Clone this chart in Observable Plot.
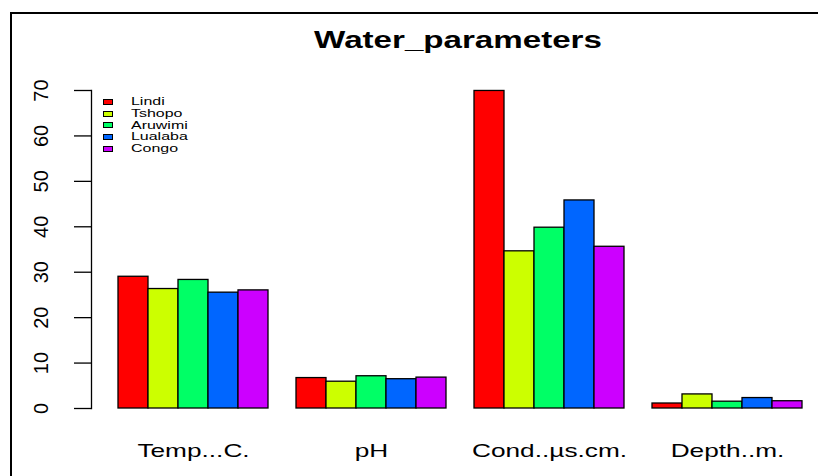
<!DOCTYPE html>
<html><head><meta charset="utf-8">
<script src="https://cdn.jsdelivr.net/npm/d3@7"></script>
<script src="https://cdn.jsdelivr.net/npm/@observablehq/plot@0.6"></script>
<style>
body{margin:0;background:#fff;}
#wrap{position:relative;width:818px;height:476px;overflow:hidden;font-family:"Liberation Sans",Arial,sans-serif;background:#fff;}
#border{position:absolute;left:10px;top:12px;width:900px;height:600px;border-left:2px solid #000;border-top:2px solid #000;pointer-events:none;}
#title{position:absolute;left:458px;top:29px;font-weight:bold;font-size:23px;line-height:23px;white-space:nowrap;transform:translateX(-50%) scaleX(1.44);color:#000;}
#legend{position:absolute;left:103px;top:96px;}
.row{display:flex;align-items:center;height:11.7px;}
.sw{width:8px;height:4px;border:1px solid #000;margin-right:18px;}
.lab{font-size:11px;line-height:11px;transform:scaleX(1.45);transform-origin:left center;white-space:nowrap;}
#chart{position:absolute;left:0;top:0;}
</style></head>
<body>
<div id="wrap">
  <div id="chart"></div>
  <div id="border"></div>
  <div id="title"></div>
  <div id="legend"></div>
</div>
<script>
const title = "Water_parameters";
const params = ["Temp...C.", "pH", "Cond..µs.cm.", "Depth..m."];
const rivers = ["Lindi", "Tshopo", "Aruwimi", "Lualaba", "Congo"];
const colors = ["#FF0000", "#CCFF00", "#00FF66", "#0066FF", "#CC00FF"];
const lindi   = [29.0, 6.7, 69.9, 1.1];
const tshopo  = [26.3, 5.9, 34.6, 3.1];
const aruwimi = [28.3, 7.1, 39.8, 1.5];
const lualaba = [25.5, 6.45, 45.8, 2.3];
const congo   = [26.0, 6.8, 35.6, 1.6];
const yTicks = [0, 10, 20, 30, 40, 50, 60, 70];

const series = [lindi, tshopo, aruwimi, lualaba, congo];
const data = [];
params.forEach((p, i) => rivers.forEach((r, j) => data.push({param: p, river: r, value: series[j][i]})));

const chart = Plot.plot({
  width: 818, height: 476,
  marginLeft: 90, marginRight: 16, marginTop: 90, marginBottom: 68,
  style: {fontFamily: "'Liberation Sans', Arial, sans-serif", color: "#000", background: "transparent"},
  fx: {domain: params, paddingInner: 0.16, paddingOuter: 0.0757, align: 1, label: null, axis: null},
  x: {domain: rivers, padding: 0, axis: null},
  y: {domain: [0, 70], axis: null},
  color: {domain: rivers, range: colors},
  marks: [
    Plot.barY(data, {fx: "param", x: "river", y: "value", fill: "river", stroke: "#000", strokeWidth: 1.3, inset: 0}),
    Plot.frame({anchor: "left", dx: -27, facetAnchor: "left", stroke: "#000", strokeWidth: 1.3}),
    Plot.axisY({ticks: yTicks, tickSize: 17, tickPadding: 27, tickRotate: -90, dx: -27, fontSize: 20, facetAnchor: "left", label: null, strokeWidth: 1.3}),
    Plot.axisFx({anchor: "bottom", tickSize: 0, tickPadding: 35, fontSize: 19, label: null, ariaLabel: "fx-axis"})
  ]
});
document.getElementById("chart").appendChild(chart);
// horizontally stretch the category labels like the reference
d3.select(chart).selectAll('g[aria-label="fx-axis"] text, g[aria-label="fx-axis tick label"] text').each(function() {
  const len = this.getComputedTextLength();
  this.setAttribute("textLength", len * 1.38);
  this.setAttribute("lengthAdjust", "spacingAndGlyphs");
});
document.getElementById("title").textContent = title;
const leg = document.getElementById("legend");
rivers.forEach((r, j) => {
  const row = document.createElement("div"); row.className = "row";
  const sw = document.createElement("div"); sw.className = "sw"; sw.style.background = colors[j];
  const lab = document.createElement("div"); lab.className = "lab"; lab.textContent = r;
  row.appendChild(sw); row.appendChild(lab); leg.appendChild(row);
});
</script>
</body></html>
